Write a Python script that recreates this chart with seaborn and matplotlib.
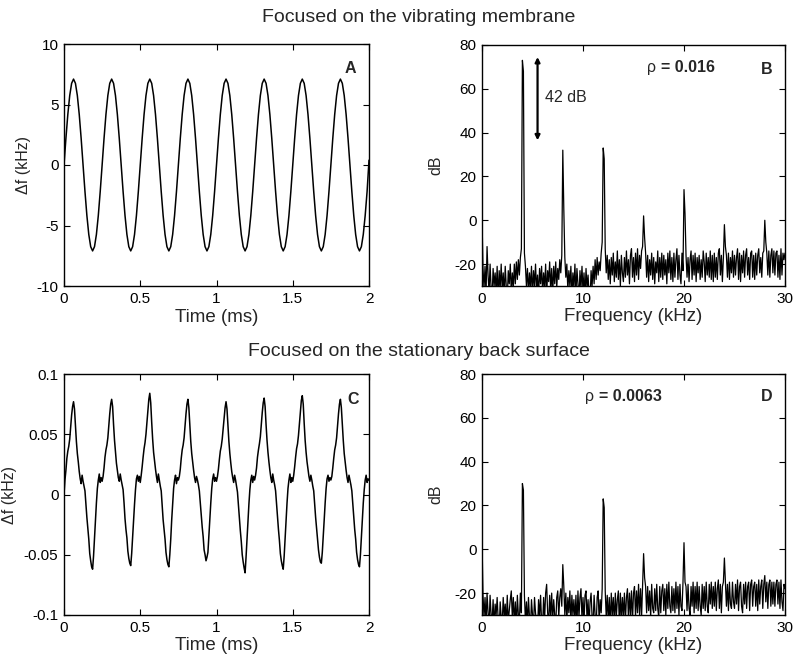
import numpy as np
import pandas as pd
import matplotlib
matplotlib.use("Agg")
import matplotlib.pyplot as plt
import seaborn as sns

# ---------------- data ----------------
titles = ["Focused on the vibrating membrane", "Focused on the stationary back surface"]
panel_letters = ["A", "B", "C", "D"]
rho_labels = ["0.016", "0.0063"]

time_step_ms = 0.0125       # panel A sampling interval
time_step_c_ms = 0.00625    # panel C sampling interval
freq_step_khz = 0.1         # spectra bin spacing

time_ticks = [0, 0.5, 1, 1.5, 2]
time_ticklabels = ["0", "0.5", "1", "1.5", "2"]
a_yticks = [-10, -5, 0, 5, 10]
c_yticks = [-0.1, -0.05, 0, 0.05, 0.1]
c_yticklabels = ["-0.1", "-0.05", "0", "0.05", "0.1"]
freq_ticks = [0, 10, 20, 30]
db_ticks = [-20, 0, 20, 40, 60, 80]

# Panel A: frequency deviation (kHz), vibrating membrane
delta_f_membrane = [
    0.0, 2.19, 4.17, 5.74, 6.75, 7.1, 6.75, 5.74, 4.17, 2.19, 0.0, -2.19, -4.17, -5.74, -6.75, -7.1, -6.75, -5.74, -4.17, -2.19,
    0.0, 2.19, 4.17, 5.74, 6.75, 7.1, 6.75, 5.74, 4.17, 2.19, 0.0, -2.19, -4.17, -5.74, -6.75, -7.1, -6.75, -5.74, -4.17, -2.19,
    0.0, 2.19, 4.17, 5.74, 6.75, 7.1, 6.75, 5.74, 4.17, 2.19, 0.0, -2.19, -4.17, -5.74, -6.75, -7.1, -6.75, -5.74, -4.17, -2.19,
    0.0, 2.19, 4.17, 5.74, 6.75, 7.1, 6.75, 5.74, 4.17, 2.19, 0.0, -2.19, -4.17, -5.74, -6.75, -7.1, -6.75, -5.74, -4.17, -2.19,
    0.0, 2.19, 4.17, 5.74, 6.75, 7.1, 6.75, 5.74, 4.17, 2.19, 0.0, -2.19, -4.17, -5.74, -6.75, -7.1, -6.75, -5.74, -4.17, -2.19,
    0.0, 2.19, 4.17, 5.74, 6.75, 7.1, 6.75, 5.74, 4.17, 2.19, 0.0, -2.19, -4.17, -5.74, -6.75, -7.1, -6.75, -5.74, -4.17, -2.19,
    0.0, 2.19, 4.17, 5.74, 6.75, 7.1, 6.75, 5.74, 4.17, 2.19, 0.0, -2.19, -4.17, -5.74, -6.75, -7.1, -6.75, -5.74, -4.17, -2.19,
    0.0, 2.19, 4.17, 5.74, 6.75, 7.1, 6.75, 5.74, 4.17, 2.19, 0.0, -2.19, -4.17, -5.74, -6.75, -7.1, -6.75, -5.74, -4.17, -2.19,
    0.4,
]

# Panel B: spectrum (dB), 0 .. 30 kHz
spectrum_membrane = [
    1, -22, -31, -21, -34, -12, -25, -33, -20, -31,
    -35, -22, -30, -24, -33, -21, -36, -23, -31, -20,
    -32, -24, -34, -21, -30, -36, -23, -29, -20, -33,
    -24, -31, -20, -29, -19, -27, -18, -25, -17, -13,
    73, 68, -15, -21, -30, -22, -33, -24, -31, -21,
    -34, -23, -30, -20, -32, -25, -35, -22, -29, -21,
    -33, -24, -31, -20, -35, -23, -28, -19, -32, -22,
    -34, -21, -29, -19, -31, -22, -27, -18, -24, -16,
    32, 5, -17, -26, -20, -32, -23, -30, -21, -35,
    -24, -31, -20, -34, -22, -29, -36, -23, -31, -21,
    -33, -24, -35, -22, -31, -25, -34, -37, -23, -30,
    -21, -29, -18, -27, -17, -25, -19, -23, -15, -10,
    33, 28, -13, -24, -16, -27, -18, -29, -17, -25,
    -15, -28, -19, -26, -14, -27, -18, -30, -16, -24,
    -28, -17, -26, -14, -25, -18, -29, -16, -13, -26,
    -17, -28, -15, -25, -13, -27, -16, -22, -14, -12,
    2, -8, -15, -26, -16, -28, -18, -25, -15, -27,
    -17, -29, -19, -24, -14, -28, -17, -26, -15, -27,
    -16, -25, -18, -29, -15, -24, -14, -27, -17, -28,
    -15, -26, -18, -13, -27, -16, -25, -29, -15, -23,
    14, 3, -16, -26, -17, -28, -18, -14, -27, -16,
    -25, -15, -28, -17, -24, -16, -27, -18, -26, -14,
    -19, -28, -15, -25, -17, -26, -14, -27, -16, -28,
    -15, -26, -17, -27, -15, -13, -25, -16, -28, -17,
    -2, -12, -16, -26, -15, -27, -17, -24, -14, -26,
    -16, -25, -17, -13, -27, -15, -28, -16, -24, -14,
    -26, -16, -13, -25, -17, -27, -15, -14, -26, -16,
    -27, -15, -25, -16, -13, -24, -17, -26, -15, -14,
    0, -10, -15, -25, -14, -26, -16, -13, -24, -14,
    -25, -15, -14, -26, -16, -27, -13, -25, -15, -18,
    -15,
]

# Panel C: frequency deviation (kHz), stationary back surface
delta_f_back = [
    0.000, 0.012, 0.020, 0.030, 0.036, 0.040, 0.046, 0.056, 0.066, 0.073, 0.077, 0.071, 0.057, 0.044, 0.034, 0.027, 0.019, 0.013, 0.009, 0.016,
    0.011, 0.007, 0.003, -0.008, -0.019, -0.028, -0.037, -0.049, -0.055, -0.060, -0.062, -0.051, -0.036, -0.021, -0.007, 0.005, 0.012, 0.017, 0.010, 0.014,
    0.011, 0.015, 0.022, 0.031, 0.037, 0.041, 0.047, 0.057, 0.067, 0.075, 0.079, 0.073, 0.058, 0.045, 0.035, 0.026, 0.020, 0.014, 0.011, 0.017,
    0.012, 0.008, 0.004, -0.007, -0.020, -0.029, -0.036, -0.047, -0.053, -0.057, -0.059, -0.049, -0.035, -0.022, -0.008, 0.004, 0.013, 0.016, 0.011, 0.015,
    0.010, 0.016, 0.023, 0.031, 0.038, 0.043, 0.050, 0.060, 0.070, 0.079, 0.084, 0.076, 0.060, 0.046, 0.035, 0.028, 0.021, 0.015, 0.010, 0.017,
    0.012, 0.007, 0.003, -0.009, -0.021, -0.029, -0.037, -0.048, -0.054, -0.058, -0.060, -0.050, -0.037, -0.021, -0.008, 0.005, 0.012, 0.016, 0.009, 0.014,
    0.012, 0.015, 0.021, 0.030, 0.037, 0.041, 0.047, 0.057, 0.067, 0.075, 0.079, 0.072, 0.058, 0.044, 0.034, 0.027, 0.020, 0.014, 0.010, 0.015,
    0.012, 0.008, 0.003, -0.007, -0.018, -0.027, -0.035, -0.046, -0.050, -0.055, -0.052, -0.048, -0.034, -0.020, -0.007, 0.005, 0.013, 0.017, 0.011, 0.014,
    0.011, 0.015, 0.021, 0.029, 0.036, 0.040, 0.046, 0.055, 0.065, 0.072, 0.077, 0.071, 0.057, 0.044, 0.034, 0.026, 0.019, 0.014, 0.010, 0.016,
    0.012, 0.007, 0.002, -0.009, -0.021, -0.030, -0.039, -0.050, -0.056, -0.061, -0.065, -0.052, -0.037, -0.022, -0.008, 0.004, 0.012, 0.016, 0.010, 0.015,
    0.012, 0.016, 0.022, 0.031, 0.037, 0.042, 0.048, 0.058, 0.068, 0.076, 0.080, 0.073, 0.058, 0.045, 0.035, 0.027, 0.020, 0.014, 0.010, 0.017,
    0.012, 0.008, 0.003, -0.008, -0.020, -0.029, -0.038, -0.049, -0.055, -0.059, -0.062, -0.051, -0.036, -0.021, -0.007, 0.005, 0.012, 0.017, 0.010, 0.014,
    0.011, 0.016, 0.023, 0.031, 0.038, 0.042, 0.049, 0.059, 0.069, 0.078, 0.082, 0.075, 0.059, 0.045, 0.035, 0.027, 0.021, 0.015, 0.011, 0.016,
    0.012, 0.007, 0.003, -0.008, -0.019, -0.028, -0.036, -0.046, -0.052, -0.056, -0.057, -0.048, -0.035, -0.021, -0.007, 0.005, 0.013, 0.016, 0.011, 0.014,
    0.012, 0.015, 0.022, 0.030, 0.037, 0.041, 0.047, 0.057, 0.067, 0.075, 0.079, 0.072, 0.058, 0.045, 0.034, 0.027, 0.020, 0.014, 0.010, 0.016,
    0.012, 0.008, 0.003, -0.008, -0.020, -0.029, -0.037, -0.048, -0.054, -0.058, -0.060, -0.050, -0.036, -0.021, -0.007, 0.004, 0.012, 0.016, 0.010, 0.013,
    0.012,
]

# Panel D: spectrum (dB), 0 .. 30 kHz
spectrum_back = [
    4, -21, -31, -22, -34, -20, -29, -35, -21, -30,
    -33, -23, -36, -25, -30, -22, -32, -37, -24, -31,
    -34, -22, -31, -25, -35, -21, -33, -28, -23, -19,
    -31, -22, -34, -24, -36, -21, -30, -33, -20, -29,
    30, 27, -21, -33, -24, -35, -22, -31, -36, -23,
    -30, -35, -22, -29, -34, -37, -23, -31, -21, -33,
    -35, -22, -32, -20, -16, -29, -34, -21, -31, -20,
    -33, -23, -30, -35, -22, -19, -31, -22, -18, -26,
    -7, -17, -30, -20, -33, -22, -29, -19, -34, -21,
    -30, -23, -33, -21, -35, -19, -31, -22, -18, -32,
    -22, -33, -21, -19, -32, -23, -35, -24, -20, -31,
    -34, -21, -30, -36, -22, -19, -33, -23, -29, -18,
    23, 19, -19, -31, -21, -33, -22, -35, -20, -30,
    -22, -34, -20, -31, -23, -19, -35, -20, -32, -22,
    -31, -20, -33, -22, -18, -32, -20, -30, -19, -33,
    -20, -17, -31, -19, -29, -16, -30, -18, -31, -17,
    -2, -13, -17, -29, -17, -28, -19, -31, -16, -27,
    -29, -18, -28, -16, -27, -31, -17, -29, -19, -16,
    -28, -18, -30, -16, -27, -15, -26, -29, -17, -28,
    -18, -29, -15, -27, -17, -30, -16, -26, -28, -15,
    3, -15, -17, -28, -16, -27, -30, -17, -26, -15,
    -29, -17, -27, -15, -28, -17, -26, -30, -16, -27,
    -17, -28, -15, -26, -29, -16, -25, -15, -27, -17,
    -26, -15, -28, -18, -14, -27, -16, -29, -17, -15,
    -4, -15, -26, -16, -28, -15, -25, -27, -15, -24,
    -27, -16, -25, -14, -28, -17, -15, -26, -29, -16,
    -25, -15, -27, -17, -15, -28, -16, -14, -26, -17,
    -15, -26, -16, -28, -14, -25, -17, -14, -27, -16,
    -12, -24, -15, -27, -16, -14, -26, -15, -25, -15,
    -26, -16, -14, -25, -15, -27, -14, -24, -28, -16,
    -18,
]

# ---------------- style ----------------
sns.set_style("ticks")
plt.rcParams.update({
    "font.family": ["Liberation Sans", "DejaVu Sans"],
    "axes.unicode_minus": False,
    "xtick.direction": "in",
    "ytick.direction": "in",
    "xtick.top": True,
    "ytick.right": True,
    "xtick.major.size": 4,
    "ytick.major.size": 4,
    "xtick.major.width": 0.8,
    "ytick.major.width": 0.8,
    "axes.linewidth": 1.0,
    "axes.edgecolor": "black",
    "xtick.color": "black",
    "ytick.color": "black",
    "xtick.labelsize": 11,
    "ytick.labelsize": 11,
})

W, H = 795, 665
fig = plt.figure(figsize=(W / 100, H / 100), dpi=100)


def axes_px(left, top, right, bottom):
    return fig.add_axes([left / W, 1 - bottom / H, (right - left) / W, (bottom - top) / H])


axA = axes_px(64, 44, 369, 286)
axB = axes_px(482, 45, 785, 286)
axC = axes_px(64, 374, 369, 615)
axD = axes_px(482, 374, 785, 615)

df_a = pd.DataFrame({"t": np.arange(len(delta_f_membrane)) * time_step_ms, "v": delta_f_membrane})
df_c = pd.DataFrame({"t": np.arange(len(delta_f_back)) * time_step_c_ms, "v": delta_f_back})
df_b = pd.DataFrame({"f": np.arange(len(spectrum_membrane)) * freq_step_khz, "db": spectrum_membrane})
df_d = pd.DataFrame({"f": np.arange(len(spectrum_back)) * freq_step_khz, "db": spectrum_back})

sns.lineplot(data=df_a, x="t", y="v", ax=axA, color="black", linewidth=1.1, estimator=None, errorbar=None)
sns.lineplot(data=df_c, x="t", y="v", ax=axC, color="black", linewidth=1.1, estimator=None, errorbar=None)
sns.lineplot(data=df_b, x="f", y="db", ax=axB, color="black", linewidth=0.9, estimator=None, errorbar=None)
sns.lineplot(data=df_d, x="f", y="db", ax=axD, color="black", linewidth=0.9, estimator=None, errorbar=None)

label_font = 13.5
ylabel_font = 11.5

for ax in (axA, axC):
    ax.set_xlim(0, 2)
    ax.set_xticks(time_ticks)
    ax.set_xticklabels(time_ticklabels)
    ax.set_xlabel("Time (ms)", fontsize=label_font, va="top")
    ax.set_ylabel("Δf (kHz)", fontsize=ylabel_font)

axA.set_ylim(-10, 10)
axA.set_yticks(a_yticks)
axC.set_ylim(-0.1, 0.1)
axC.set_yticks(c_yticks)
axC.set_yticklabels(c_yticklabels)

for ax in (axB, axD):
    ax.set_xlim(0, 30)
    ax.set_ylim(-30, 80)
    ax.set_xticks(freq_ticks)
    ax.set_yticks(db_ticks)
    ax.set_xlabel("Frequency (kHz)", fontsize=label_font, va="top")
    ax.set_ylabel("dB", fontsize=ylabel_font)

for ax in (axA, axB, axC, axD):
    ax.tick_params(axis="both", which="major", pad=4)
    ax.xaxis.set_label_coords(0.5, -0.093)
    for s in ax.spines.values():
        s.set_visible(True)

axA.yaxis.set_label_coords(-0.108, 0.5)
axC.yaxis.set_label_coords(-0.155, 0.5)
axB.yaxis.set_label_coords(-0.128, 0.5)
axD.yaxis.set_label_coords(-0.128, 0.5)

# panel letters
letter_pos = [(0.938, 0.90), (0.94, 0.90), (0.947, 0.895), (0.94, 0.905)]
for ax, letter, (lx, ly) in zip((axA, axB, axC, axD), panel_letters, letter_pos):
    ax.text(lx, ly, letter, transform=ax.transAxes, ha="center", va="center",
            fontsize=11.5, fontweight="bold")

# rho annotations
for ax, rho, (rx, ry) in zip((axB, axD), rho_labels, [(0.59, 0.905), (0.386, 0.905)]):
    ax.text(rx, ry, "ρ ", transform=ax.transAxes, ha="right", va="center", fontsize=11.5)
    ax.text(rx, ry, "= " + rho, transform=ax.transAxes, ha="left", va="center",
            fontsize=11.5, fontweight="bold")

# 42 dB arrow
axB.annotate("", xy=(5.5, 36.5), xytext=(5.5, 74.5),
             arrowprops=dict(arrowstyle="<|-|>", color="black", lw=1.6, mutation_scale=7,
                             shrinkA=0, shrinkB=0))
axB.text(6.2, 56, "42 dB", ha="left", va="center", fontsize=11.5)

# row titles
fig.text(419 / W, 1 - 18 / H, titles[0], ha="center", va="center", fontsize=14)
fig.text(419 / W, 1 - 352 / H, titles[1], ha="center", va="center", fontsize=14)

fig.savefig("out.png", dpi=100, facecolor="white")
